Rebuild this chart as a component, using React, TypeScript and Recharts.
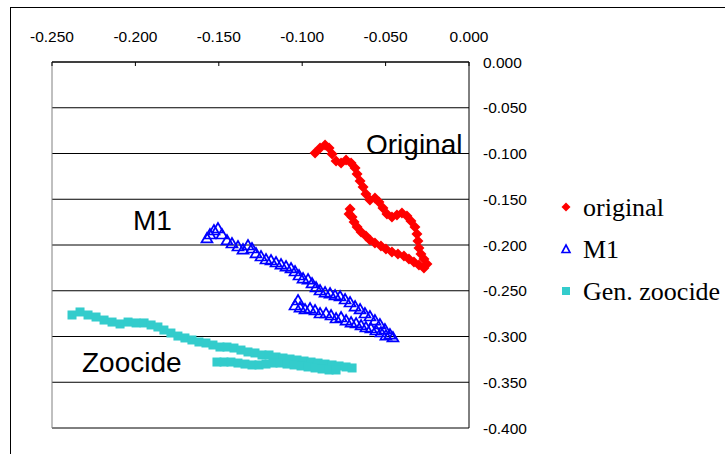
import { ScatterChart, Scatter, XAxis, YAxis, CartesianGrid, ReferenceLine } from "recharts";

// [x, y] pairs
const originalPts: [number, number][] = [
  [-0.0923, -0.0995], [-0.0893, -0.094], [-0.0863, -0.0907], [-0.0839, -0.094], [-0.0821, -0.1005],
  [-0.0797, -0.1082], [-0.0767, -0.1104], [-0.0737, -0.1071], [-0.0707, -0.1104], [-0.0683, -0.1158],
  [-0.0671, -0.1224], [-0.0653, -0.1301], [-0.0635, -0.1366], [-0.0618, -0.1443], [-0.0594, -0.1508],
  [-0.0564, -0.1486], [-0.054, -0.153], [-0.0516, -0.1596], [-0.0492, -0.1661], [-0.0462, -0.1694],
  [-0.0432, -0.1672], [-0.0402, -0.165], [-0.0372, -0.1683], [-0.0348, -0.1738], [-0.0324, -0.1803],
  [-0.0312, -0.188], [-0.0306, -0.1956], [-0.03, -0.2033], [-0.0288, -0.2098], [-0.027, -0.2153],
  [-0.0252, -0.2208], [-0.027, -0.2251], [-0.03, -0.2219], [-0.033, -0.2186], [-0.036, -0.2153],
  [-0.039, -0.212], [-0.0426, -0.2098], [-0.0462, -0.2077], [-0.0498, -0.2044], [-0.0528, -0.2011],
  [-0.0564, -0.1978], [-0.0594, -0.1945], [-0.0618, -0.1902], [-0.0647, -0.1858], [-0.0671, -0.1803],
  [-0.0689, -0.1749], [-0.0701, -0.1694], [-0.0719, -0.1661], [-0.0713, -0.1607],
];

const m1Pts: [number, number][] = [
  [-0.1571, -0.1923], [-0.1553, -0.188], [-0.1529, -0.1836], [-0.1505, -0.1814], [-0.1481, -0.188],
  [-0.1451, -0.1945], [-0.1421, -0.1978], [-0.1385, -0.2011], [-0.1355, -0.2044], [-0.1325, -0.2],
  [-0.1301, -0.2033], [-0.1277, -0.2087], [-0.1247, -0.212], [-0.1217, -0.2153], [-0.1187, -0.2164],
  [-0.1157, -0.2186], [-0.1127, -0.2208], [-0.1097, -0.223], [-0.1067, -0.2251], [-0.1043, -0.2284],
  [-0.1019, -0.2328], [-0.0995, -0.2361], [-0.0965, -0.2372], [-0.0941, -0.2415], [-0.0917, -0.2459],
  [-0.0893, -0.2492], [-0.0863, -0.2514], [-0.0833, -0.2525], [-0.0803, -0.2546], [-0.0773, -0.2557],
  [-0.0743, -0.259], [-0.0713, -0.2623], [-0.0683, -0.2667], [-0.0653, -0.2699], [-0.0624, -0.2743],
  [-0.0594, -0.2776], [-0.0564, -0.282], [-0.0534, -0.2863], [-0.0504, -0.2918], [-0.0474, -0.2973],
  [-0.0456, -0.3005],
  [-0.1025, -0.2601], [-0.1043, -0.2656], [-0.1013, -0.2678], [-0.0983, -0.2699], [-0.0953, -0.2689],
  [-0.0923, -0.271], [-0.0893, -0.2743], [-0.0857, -0.2743], [-0.0827, -0.2765], [-0.0797, -0.2798],
  [-0.0767, -0.2787], [-0.0737, -0.282], [-0.0707, -0.2842], [-0.0677, -0.2852], [-0.0647, -0.2874],
  [-0.0618, -0.2896], [-0.0588, -0.2907], [-0.0558, -0.2929], [-0.0528, -0.2951], [-0.0498, -0.2984],
];

const zoocidePts: [number, number][] = [
  [-0.238, -0.2765], [-0.2332, -0.2732], [-0.2284, -0.2765], [-0.2236, -0.2787], [-0.2188, -0.282],
  [-0.214, -0.2842], [-0.2092, -0.2863], [-0.2044, -0.2842], [-0.1996, -0.2852], [-0.1948, -0.2852],
  [-0.1906, -0.2874], [-0.1865, -0.2896], [-0.1829, -0.2929], [-0.1787, -0.2962], [-0.1745, -0.2995],
  [-0.1703, -0.3016], [-0.1661, -0.3038], [-0.1619, -0.306], [-0.1577, -0.3071], [-0.1535, -0.3093],
  [-0.1493, -0.3115], [-0.1451, -0.3115], [-0.1409, -0.3126], [-0.1367, -0.3148], [-0.1325, -0.3169],
  [-0.1283, -0.318], [-0.1241, -0.3202], [-0.1199, -0.3202], [-0.1157, -0.3224], [-0.1115, -0.3235],
  [-0.1073, -0.3246], [-0.1031, -0.3257], [-0.0989, -0.3268], [-0.0947, -0.3279], [-0.0905, -0.329],
  [-0.0863, -0.3301], [-0.0821, -0.3311], [-0.0779, -0.3322], [-0.0737, -0.3333], [-0.0701, -0.3344],
  [-0.1511, -0.3279], [-0.1469, -0.3279], [-0.1427, -0.3279], [-0.1385, -0.329], [-0.1343, -0.3301],
  [-0.1301, -0.3311], [-0.1259, -0.3311], [-0.1217, -0.3301], [-0.1175, -0.329], [-0.1133, -0.329],
  [-0.1091, -0.3301], [-0.1049, -0.3311], [-0.1007, -0.3322], [-0.0965, -0.3333], [-0.0923, -0.3344],
  [-0.0881, -0.3355], [-0.0839, -0.3366], [-0.0797, -0.3366],
];

const xTicks = [-0.25, -0.2, -0.15, -0.1, -0.05, 0];
const yTicks = [0, -0.05, -0.1, -0.15, -0.2, -0.25, -0.3, -0.35, -0.4];

const toRows = (pts: [number, number][]) => pts.map(([x, y]) => ({ x, y }));

const RED = "#ff0000";
const BLUE = "#0000ff";
const CYAN = "#33cccc";

const Diamond = (p: any) => {
  const { cx, cy } = p;
  const r = 5.5;
  return <polygon points={`${cx},${cy - r} ${cx + r},${cy} ${cx},${cy + r} ${cx - r},${cy}`} fill={RED} />;
};

const Triangle = (p: any) => {
  const { cx, cy } = p;
  return (
    <polygon
      points={`${cx},${cy - 5} ${cx + 5.5},${cy + 4.5} ${cx - 5.5},${cy + 4.5}`}
      fill="none"
      stroke={BLUE}
      strokeWidth={1.7}
    />
  );
};

const Square = (p: any) => {
  const { cx, cy } = p;
  return <rect x={cx - 4.5} y={cy - 4.5} width={9} height={9} fill={CYAN} />;
};

const tickFont = { fontFamily: "'Liberation Sans', Arial, sans-serif", fontSize: 15.5, fill: "#000" };
const fmt = (v: number) => v.toFixed(3);

export default function App() {
  return (
    <div style={{ position: "absolute", left: 0, top: 0, width: 725, height: 454, overflow: "hidden", background: "#fff" }}>
      <div style={{ position: "absolute", left: 10, top: 7, width: 800, height: 600, border: "1px solid #000" }} />
      <ScatterChart
        width={725}
        height={454}
        margin={{ top: 0, right: 196, bottom: 26, left: 52 }}
        style={{ position: "absolute", left: 0, top: 0 }}
      >
        <CartesianGrid horizontal vertical={false} stroke="#000" />
        <XAxis
          type="number"
          dataKey="x"
          orientation="top"
          height={62}
          domain={[-0.25, 0]}
          ticks={xTicks}
          tickFormatter={fmt}
          tick={tickFont}
          tickSize={-4}
          tickMargin={24}
          stroke="#000"
          allowDataOverflow
        />
        <YAxis
          type="number"
          dataKey="y"
          orientation="right"
          width={60}
          domain={[-0.4, 0]}
          ticks={yTicks}
          tickFormatter={fmt}
          tick={tickFont}
          tickSize={0}
          tickMargin={14}
          stroke="#000"
          allowDataOverflow
        />
        <ReferenceLine x={-0.25} stroke="#808080" />
        <ReferenceLine y={-0.4} stroke="#808080" />
        <Scatter name="original" data={toRows(originalPts)} shape={Diamond} isAnimationActive={false} />
        <Scatter name="M1" data={toRows(m1Pts)} shape={Triangle} isAnimationActive={false} />
        <Scatter name="Gen. zoocide" data={toRows(zoocidePts)} shape={Square} isAnimationActive={false} />
      </ScatterChart>
      <svg width={725} height={454} style={{ position: "absolute", left: 0, top: 0, pointerEvents: "none" }}>
        <g fontFamily="'Liberation Sans', Arial, sans-serif" fontSize={28} fill="#000">
          <text x={366} y={154}>Original</text>
          <text x={133} y={230}>M1</text>
          <text x={82} y={372}>Zoocide</text>
        </g>
        <g fontFamily="'Liberation Serif', 'Times New Roman', serif" fontSize={26} fill="#000">
          <polygon points="566,202.5 570.5,207 566,211.5 561.5,207" fill={RED} />
          <text x={583} y={216}>original</text>
          <polygon points="566,245 570,252.5 562,252.5" fill="none" stroke={BLUE} strokeWidth={1.6} />
          <text x={583} y={258}>M1</text>
          <rect x={562} y={287} width={8} height={8} fill={CYAN} />
          <text x={583} y={300}>Gen. zoocide</text>
        </g>
      </svg>
    </div>
  );
}
